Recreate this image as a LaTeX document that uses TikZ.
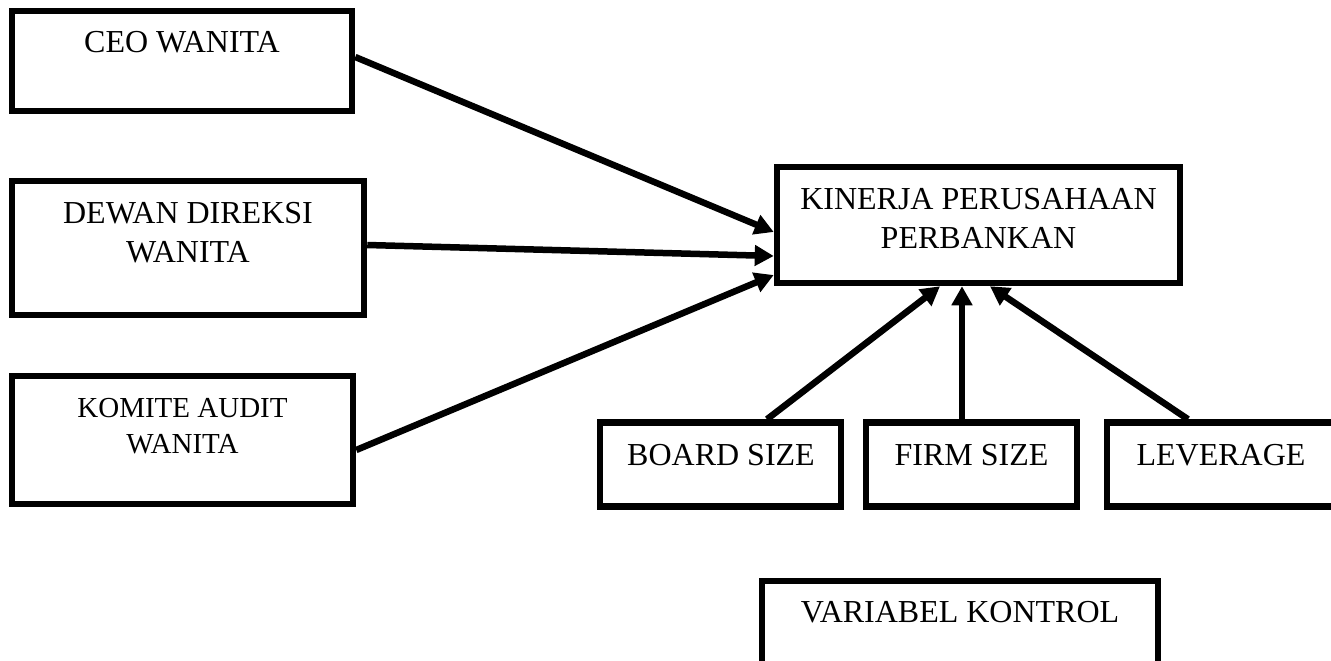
\documentclass[tikz,border=0pt]{standalone}
\usepackage{fontspec}
\setmainfont{Liberation Serif}
\usetikzlibrary{arrows.meta}
\begin{document}
\begin{tikzpicture}[x=1pt,y=-1pt,
  box/.style={draw=black,line width=6.5pt,rectangle,inner sep=0pt,fill=white},
  lbl/.style={anchor=base,inner sep=0pt,align=center,font=\fontsize{32}{38.5}\selectfont},
  lblsm/.style={anchor=base,inner sep=0pt,align=center,font=\fontsize{29}{36}\selectfont},
  arr/.style={line width=6.5pt,-{Triangle[length=19pt,width=20pt]}}]
\useasboundingbox (0,0) rectangle (1331,661);
\clip (0,0) rectangle (1331,661);
\fill[white] (0,0) rectangle (1331,661);
% boxes
\node[box,minimum width=340pt,minimum height=100pt] (ceo) at (182,61) {};
\node[box,minimum width=352pt,minimum height=134pt] (dewan) at (188,248) {};
\node[box,minimum width=341pt,minimum height=128pt] (komite) at (182.5,440) {};
\node[box,minimum width=403pt,minimum height=116pt] (kin) at (978.5,225) {};
\node[box,minimum width=241pt,minimum height=84pt] (board) at (720.5,464.5) {};
\node[box,minimum width=211pt,minimum height=84pt] (firm) at (971.5,464.5) {};
\node[box,minimum width=243pt,minimum height=84pt] (lev) at (1228.5,464.5) {};
\node[box,minimum width=396pt,minimum height=100pt] (var) at (960,631) {};
% labels
\node[lbl] (ceot) at (182,53) {CEO WANITA};
\node[lbl] (dewant) at (188,262) {DEWAN DIREKSI\\WANITA};
\node[lblsm] (komitet) at (182.5,453) {KOMITE AUDIT\\WANITA};
\node[lbl] (kint) at (978.5,248) {KINERJA PERUSAHAAN\\PERBANKAN};
\node[lbl] (boardt) at (721,465) {BOARD SIZE};
\node[lbl] (firmt) at (971.5,465) {FIRM SIZE};
\node[lbl] (levt) at (1221,465) {LEVERAGE};
\node[lbl] (vart) at (960,622) {VARIABEL KONTROL};
% connectors
\draw[arr] ([yshift=4pt]ceo.east) -- ([yshift=-7pt]kin.west);
\draw[arr] ([yshift=3pt]dewan.east) -- ([yshift=-31pt]kin.west);
\draw[arr] ([yshift=-10pt]komite.east) -- ([yshift=-50pt]kin.west);
\draw[arr] ([xshift=46.5pt]board.north) -- ([xshift=-38.5pt]kin.south);
\draw[arr] ([xshift=-9.5pt]firm.north) -- ([xshift=-16.5pt]kin.south);
\draw[arr] ([xshift=-40.5pt]lev.north) -- ([xshift=11.5pt]kin.south);
\end{tikzpicture}
\end{document}
